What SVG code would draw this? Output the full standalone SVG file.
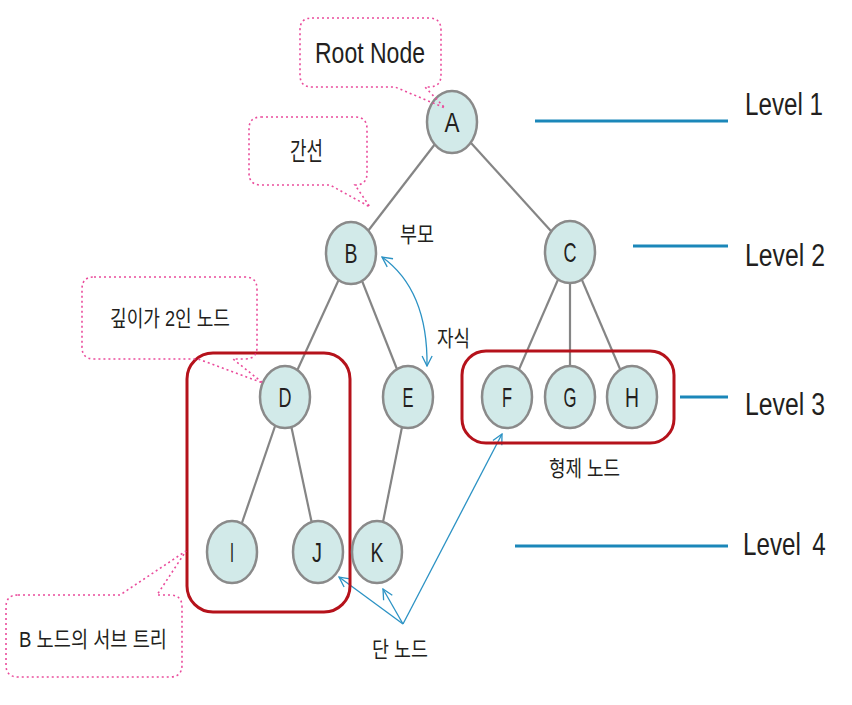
<svg xmlns="http://www.w3.org/2000/svg" width="852" height="705" viewBox="0 0 852 705">
<style>
.nd{fill:#d2eae9;stroke:#8a8a8a;stroke-width:2.5}
.lt{font-family:"Liberation Sans",sans-serif;font-size:28px;fill:#231f20;text-anchor:middle}
.edge{stroke:#858585;stroke-width:2.2;fill:none}
.call{fill:none;stroke:#ea4c9c;stroke-width:1.6;stroke-dasharray:2 3}
.kr{font-family:"Liberation Sans","Noto Sans CJK KR",sans-serif;fill:#231f20}
.lv{stroke:#1b87b9;stroke-width:3}
.ar{stroke:#2b92c4;stroke-width:1.3;fill:none}
.box{fill:none;stroke:#b5121b;stroke-width:3}
</style>
<defs>
<marker id="open" viewBox="0 0 12 12" refX="11" refY="6" markerWidth="12" markerHeight="12" markerUnits="userSpaceOnUse" orient="auto-start-reverse">
<path d="M1,1 L11,6 L1,11" fill="none" stroke="#2b92c4" stroke-width="1.3"/>
</marker>
</defs>
<rect width="852" height="705" fill="#ffffff"/>
<g id="connectors">
<line class="edge" x1="452" y1="122" x2="351" y2="253"/>
<line class="edge" x1="452" y1="122" x2="570" y2="252"/>
<line class="edge" x1="351" y1="253" x2="285" y2="397"/>
<line class="edge" x1="351" y1="253" x2="408" y2="397"/>
<line class="edge" x1="570" y1="252" x2="507" y2="397"/>
<line class="edge" x1="570" y1="252" x2="570" y2="397"/>
<line class="edge" x1="570" y1="252" x2="632" y2="397"/>
<line class="edge" x1="285" y1="397" x2="232" y2="552"/>
<line class="edge" x1="285" y1="397" x2="318" y2="552"/>
<line class="edge" x1="408" y1="397" x2="377" y2="552"/>
<path class="ar" d="M382,257 Q428,290 427,366" marker-start="url(#open)" marker-end="url(#open)"/>
<line class="ar" x1="403" y1="624" x2="339" y2="577" marker-end="url(#open)"/>
<line class="ar" x1="403" y1="624" x2="383" y2="589" marker-end="url(#open)"/>
<line class="ar" x1="403" y1="624" x2="502" y2="434" marker-end="url(#open)"/>
</g>
<g id="subtree-box"><rect class="box" x="187" y="353" width="163" height="259" rx="26"/></g>
<g id="sibling-box"><rect class="box" x="462" y="351" width="212" height="92" rx="24"/></g>
<g id="node-A"><ellipse class="nd" cx="452" cy="122" rx="25" ry="31"/><text class="lt" x="452" y="132" textLength="15" lengthAdjust="spacingAndGlyphs">A</text></g>
<g id="node-B"><ellipse class="nd" cx="351" cy="253" rx="25" ry="31"/><text class="lt" x="351" y="263" textLength="13" lengthAdjust="spacingAndGlyphs">B</text></g>
<g id="node-C"><ellipse class="nd" cx="570" cy="252" rx="25" ry="31"/><text class="lt" x="570" y="262" textLength="13" lengthAdjust="spacingAndGlyphs">C</text></g>
<g id="node-D"><ellipse class="nd" cx="285" cy="397" rx="25" ry="31"/><text class="lt" x="285" y="407" textLength="13" lengthAdjust="spacingAndGlyphs">D</text></g>
<g id="node-E"><ellipse class="nd" cx="408" cy="397" rx="25" ry="31"/><text class="lt" x="408" y="407" textLength="11" lengthAdjust="spacingAndGlyphs">E</text></g>
<g id="node-F"><ellipse class="nd" cx="507" cy="397" rx="25" ry="31"/><text class="lt" x="507" y="407" textLength="10" lengthAdjust="spacingAndGlyphs">F</text></g>
<g id="node-G"><ellipse class="nd" cx="570" cy="397" rx="25" ry="31"/><text class="lt" x="570" y="407" textLength="13" lengthAdjust="spacingAndGlyphs">G</text></g>
<g id="node-H"><ellipse class="nd" cx="632" cy="397" rx="25" ry="31"/><text class="lt" x="632" y="407" textLength="14" lengthAdjust="spacingAndGlyphs">H</text></g>
<g id="node-I"><ellipse class="nd" cx="232" cy="552" rx="25" ry="31"/><text class="lt" x="232" y="562" textLength="4" lengthAdjust="spacingAndGlyphs">I</text></g>
<g id="node-J"><ellipse class="nd" cx="318" cy="552" rx="25" ry="31"/><text class="lt" x="317" y="562" textLength="10" lengthAdjust="spacingAndGlyphs">J</text></g>
<g id="node-K"><ellipse class="nd" cx="377" cy="552" rx="25" ry="31"/><text class="lt" x="377" y="562" textLength="13" lengthAdjust="spacingAndGlyphs">K</text></g>
<g id="callout-root">
<path class="call" d="M312,18 H429 Q441,18 441,30 V75 Q441,87 429,87 H425 L445,108 L395,87 H312 Q300,87 300,75 V30 Q300,18 312,18 Z"/>
<text class="kr" x="315" y="63" font-size="30" textLength="110" lengthAdjust="spacingAndGlyphs">Root Node</text>
</g>
<g id="callout-edge">
<path class="call" d="M261,117 H355 Q367,117 367,129 V173 Q367,185 355,185 L370,207 L330,185 H261 Q249,185 249,173 V129 Q249,117 261,117 Z"/>
<text class="kr" x="290" y="160" font-size="25" textLength="33" lengthAdjust="spacingAndGlyphs">간선</text>
</g>
<g id="callout-depth">
<path class="call" d="M94,277 H245 Q257,277 257,289 V347 Q257,359 245,359 H233 L263,383 L198,359 H94 Q82,359 82,347 V289 Q82,277 94,277 Z"/>
<text class="kr" x="110" y="326" font-size="22" textLength="120" lengthAdjust="spacingAndGlyphs">깊이가 2인 노드</text>
</g>
<g id="callout-subtree">
<path class="call" d="M18,595 H120 L186,551 L157,595 H170 Q182,595 182,607 V665 Q182,677 170,677 H18 Q6,677 6,665 V607 Q6,595 18,595 Z"/>
<text class="kr" x="19" y="647" font-size="22" textLength="148" lengthAdjust="spacingAndGlyphs">B 노드의 서브 트리</text>
</g>
<g id="labels">
<text class="kr" x="400" y="242" font-size="22" textLength="34" lengthAdjust="spacingAndGlyphs">부모</text>
<text class="kr" x="437" y="346" font-size="22" textLength="33" lengthAdjust="spacingAndGlyphs">자식</text>
<text class="kr" x="549" y="476" font-size="22" textLength="71" lengthAdjust="spacingAndGlyphs">형제 노드</text>
<text class="kr" x="372" y="657" font-size="22" textLength="56" lengthAdjust="spacingAndGlyphs">단 노드</text>
</g>
<g id="levels">
<line class="lv" x1="535" y1="121" x2="728" y2="121"/>
<line class="lv" x1="633" y1="246" x2="728" y2="246"/>
<line class="lv" x1="680" y1="397" x2="728" y2="397"/>
<line class="lv" x1="515" y1="546" x2="728" y2="546"/>
<text class="kr" x="745" y="115" font-size="31" textLength="78" lengthAdjust="spacingAndGlyphs">Level 1</text>
<text class="kr" x="745" y="266" font-size="31" textLength="80" lengthAdjust="spacingAndGlyphs">Level 2</text>
<text class="kr" x="745" y="415" font-size="31" textLength="80" lengthAdjust="spacingAndGlyphs">Level 3</text>
<text class="kr" transform="translate(743,555) scale(0.78,1)" font-size="31" word-spacing="6">Level 4</text>
</g>
</svg>
